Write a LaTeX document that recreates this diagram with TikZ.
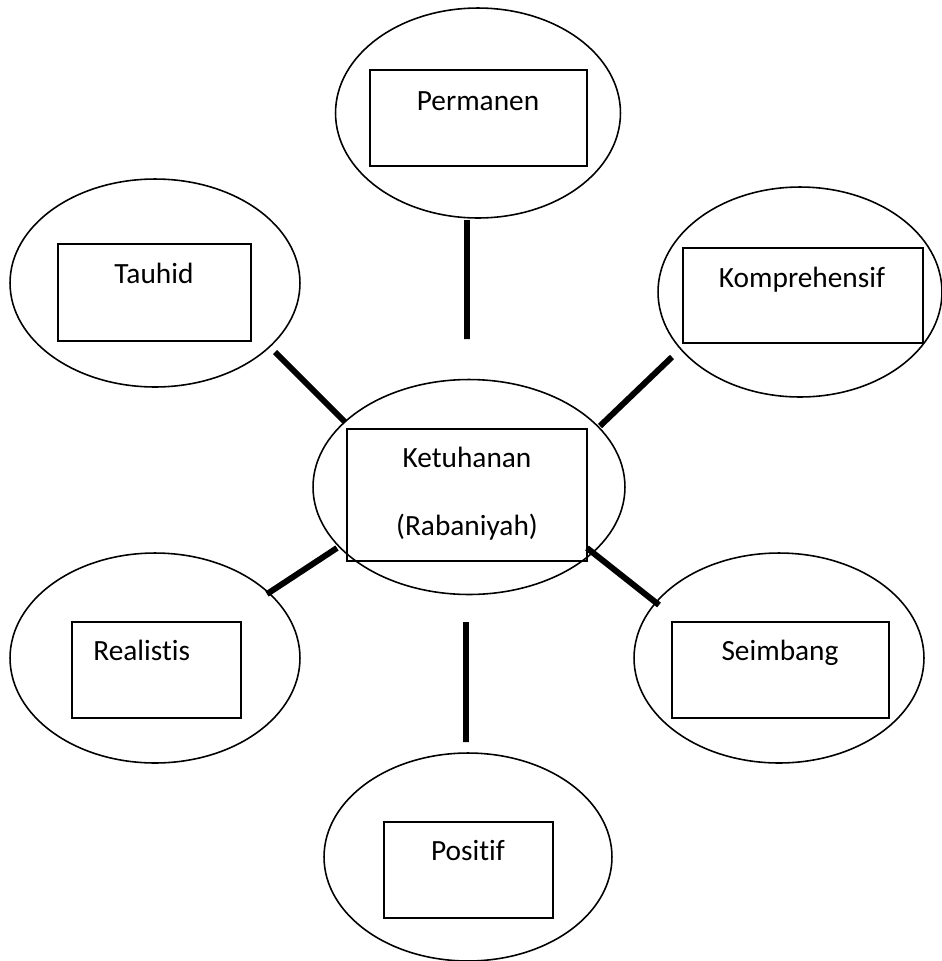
\documentclass[tikz,border=0pt]{standalone}
\usepackage{fontspec}
\setmainfont{Carlito}[Ligatures=NoCommon]
\usetikzlibrary{shapes.geometric}

\begin{document}
\begin{tikzpicture}[x=0.02cm,y=-0.02cm,
		oval/.style={draw,ellipse,line width=0.9pt,inner sep=0pt},
		box/.style={draw,rectangle,line width=0.9pt,inner sep=0pt},
		word/.style={anchor=base,inner sep=0pt,font=\fontsize{16.7}{20}\selectfont},
		spoke/.style={line width=3.4pt}]
		\useasboundingbox (0,0) rectangle (941,961);
		% ovals
		\node[oval,minimum width=5.7cm,minimum height=4.2cm] (perm) at (478,113) {};
		\node[oval,minimum width=5.8cm,minimum height=4.16cm] (tauh) at (155,283) {};
		\node[oval,minimum width=5.68cm,minimum height=4.2cm] (komp) at (800,292) {};
		\node[oval,minimum width=6.24cm,minimum height=4.3cm] (ketu) at (469,487) {};
		\node[oval,minimum width=5.8cm,minimum height=4.2cm] (real) at (155,658) {};
		\node[oval,minimum width=5.8cm,minimum height=4.2cm] (seim) at (779,658) {};
		\node[oval,minimum width=5.76cm,minimum height=4.16cm] (posi) at (468,857) {};
		% boxes
		\node[box,minimum width=4.34cm,minimum height=1.92cm] (perm-b) at (478.5,118) {};
		\node[box,minimum width=3.86cm,minimum height=1.94cm] (tauh-b) at (154.5,292.5) {};
		\node[box,minimum width=4.8cm,minimum height=1.9cm] (komp-b) at (803,295.5) {};
		\node[box,minimum width=4.8cm,minimum height=2.64cm] (ketu-b) at (467,495) {};
		\node[box,minimum width=3.38cm,minimum height=1.92cm] (real-b) at (156.5,670) {};
		\node[box,minimum width=4.34cm,minimum height=1.92cm] (seim-b) at (780.5,670) {};
		\node[box,minimum width=3.38cm,minimum height=1.92cm] (posi-b) at (468.5,870) {};
		% texts
		\node[word] (perm-t) at (478,110) {Permanen};
		\node[word] (tauh-t) at (154,283) {Tauhid};
		\node[word] (komp-t) at (802,287) {Komprehensif};
		\node[word] (ketu-t) at (467,467) {Ketuhanan};
		\node[word] (raba-t) at (467,535) {(Rabaniyah)};
		\node[word,anchor=base west] (real-t) at (93,660) {Realistis};
		\node[word] (seim-t) at (780,660) {Seimbang};
		\node[word] (posi-t) at (468,860) {Positif};
		% spokes
		\coordinate (perm-a) at (467,220);
		\coordinate (perm-z) at (467,339);
		\coordinate (tauh-a) at (275,352);
		\coordinate (tauh-z) at (345,422);
		\coordinate (komp-a) at (672,357);
		\coordinate (komp-z) at (600,426);
		\coordinate (real-a) at (267,594);
		\coordinate (real-z) at (337,548);
		\coordinate (seim-a) at (659,605);
		\coordinate (seim-z) at (587,548);
		\coordinate (posi-a) at (466,742);
		\coordinate (posi-z) at (466,622);
		\draw[spoke] (perm-a) -- (perm-z)
		(tauh-a) -- (tauh-z)
		(komp-a) -- (komp-z)
		(real-a) -- (real-z)
		(seim-a) -- (seim-z)
		(posi-a) -- (posi-z);
	\end{tikzpicture}
\end{document}
